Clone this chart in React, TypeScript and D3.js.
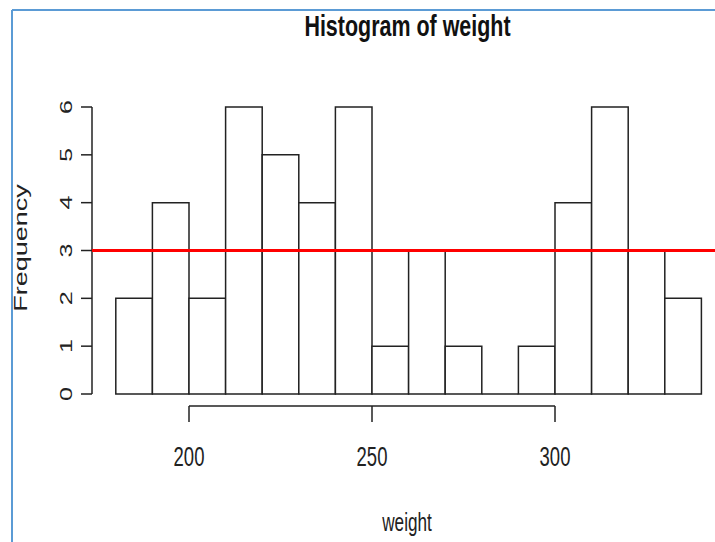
import React from "react";
import * as d3 from "d3";

const breaks = [180, 190, 200, 210, 220, 230, 240, 250, 260, 270, 280, 290, 300, 310, 320, 330, 340];
const counts = [2, 4, 2, 6, 5, 4, 6, 1, 3, 1, 0, 1, 4, 6, 3, 2];
const xTicks = [200, 250, 300];
const yTicks = [0, 1, 2, 3, 4, 5, 6];
const refLine = 3;
const title = "Histogram of weight";
const xLabel = "weight";
const yLabel = "Frequency";

const W = 715;
const H = 542;
const SX = 0.66;
const FONT = "'Liberation Sans', Arial, sans-serif";

export default function App() {
  const x = d3.scaleLinear().domain([200, 300]).range([189, 555]);
  const y = d3.scaleLinear().domain([0, 6]).range([394, 107]);
  const bins = counts.map((c, i) => ({ x0: breaks[i], x1: breaks[i + 1], c }));
  const axisX = 92;
  const axisY = 406;
  const barPath = (b: { x0: number; x1: number; c: number }) => {
    const p = d3.path();
    p.moveTo(x(b.x0), y(0));
    p.lineTo(x(b.x0), y(b.c));
    p.lineTo(x(b.x1), y(b.c));
    p.lineTo(x(b.x1), y(0));
    p.closePath();
    return p.toString();
  };
  return (
    <svg
      width={W}
      height={H}
      style={{ position: "absolute", left: 0, top: 0, background: "#fff" }}
    >
      <rect x={0} y={0} width={W} height={H} fill="#fff" />
      {/* border */}
      <line x1={12} y1={10} x2={W} y2={10} stroke="#5b9bd5" strokeWidth={2} />
      <line x1={12} y1={10} x2={12} y2={H} stroke="#5b9bd5" strokeWidth={2} />

      {/* bars */}
      {bins.map((b, i) => (
        <path key={i} d={barPath(b)} fill="#fff" stroke="#222" strokeWidth={1.5} />
      ))}

      {/* y axis */}
      <line x1={axisX} y1={y(6)} x2={axisX} y2={y(0)} stroke="#222" strokeWidth={1.5} />
      {yTicks.map((t) => (
        <g key={t}>
          <line x1={axisX - 11} y1={y(t)} x2={axisX} y2={y(t)} stroke="#222" strokeWidth={1.5} />
          <text
            transform={`translate(72,${y(t)}) scale(${SX},1) rotate(-90)`}
            textAnchor="middle"
            fontFamily={FONT}
            fontSize={25}
            fill="#222"
          >
            {t}
          </text>
        </g>
      ))}

      {/* x axis */}
      <line x1={x(xTicks[0])} y1={axisY} x2={x(xTicks[xTicks.length - 1])} y2={axisY} stroke="#222" strokeWidth={1.5} />
      {xTicks.map((t) => (
        <g key={t}>
          <line x1={x(t)} y1={axisY} x2={x(t)} y2={axisY + 16} stroke="#222" strokeWidth={1.5} />
          <text
            transform={`translate(${x(t)},466) scale(${SX},1)`}
            textAnchor="middle"
            fontFamily={FONT}
            fontSize={28}
            fill="#222"
          >
            {t}
          </text>
        </g>
      ))}

      {/* reference line */}
      <line x1={axisX} y1={y(refLine)} x2={W} y2={y(refLine)} stroke="#ff0000" strokeWidth={3} />

      {/* labels */}
      <text
        transform={`translate(407.5,36) scale(0.74,1)`}
        textAnchor="middle"
        fontFamily={FONT}
        fontWeight="bold"
        fontSize={29}
        fill="#111"
      >
        {title}
      </text>
      <text
        transform={`translate(407,531) scale(${SX},1)`}
        textAnchor="middle"
        fontFamily={FONT}
        fontSize={26}
        fill="#222"
      >
        {xLabel}
      </text>
      <text
        transform={`translate(27,248) scale(${SX},1) rotate(-90)`}
        textAnchor="middle"
        fontFamily={FONT}
        fontSize={27}
        fill="#222"
      >
        {yLabel}
      </text>
    </svg>
  );
}
